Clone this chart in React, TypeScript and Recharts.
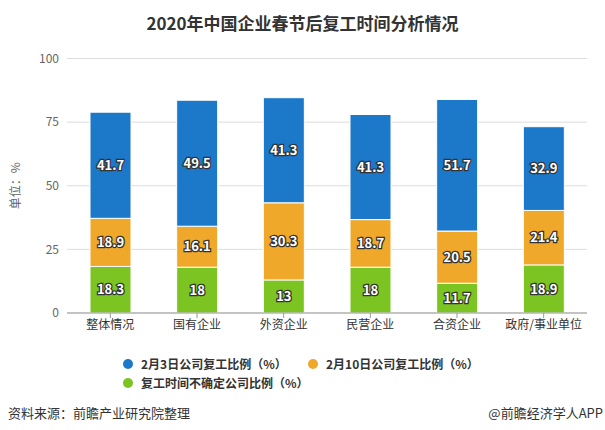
import { Bar, BarChart, CartesianGrid, LabelList, Legend, XAxis, YAxis } from "recharts";

const categories = ["整体情况", "国有企业", "外资企业", "民营企业", "合资企业", "政府/事业单位"];
const feb3 = [41.7, 49.5, 41.3, 41.3, 51.7, 32.9];
const feb10 = [18.9, 16.1, 30.3, 18.7, 20.5, 21.4];
const unsure = [18.3, 18, 13, 18, 11.7, 18.9];
const yTicks = [0, 25, 50, 75, 100];

const SERIES = [
  { key: "feb3", name: "2月3日公司复工比例（%）", color: "#1c78c8" },
  { key: "feb10", name: "2月10日公司复工比例（%）", color: "#efa82a" },
  { key: "unsure", name: "复工时间不确定公司比例（%）", color: "#7cc421" },
];

const data = categories.map((name, i) => ({
  name,
  feb3: feb3[i],
  feb10: feb10[i],
  unsure: unsure[i],
}));

const FONT = "'Microsoft YaHei', 'Noto Sans CJK SC', sans-serif";

const labelStyle = {
  fill: "#fff",
  stroke: "#333",
  strokeWidth: 2.5,
  paintOrder: "stroke",
  fontWeight: 700,
  fontSize: 13,
  fontFamily: FONT,
} as const;

const LegendContent = () => {
  const item = (s: (typeof SERIES)[number], left: number, top: number) => (
    <div
      key={s.key}
      style={{ position: "absolute", left, top, display: "flex", alignItems: "center", whiteSpace: "nowrap" }}
    >
      <span
        style={{
          width: 10,
          height: 10,
          borderRadius: 5,
          background: s.color,
          display: "inline-block",
          marginRight: 8,
        }}
      />
      <span style={{ fontSize: 12, fontWeight: 700, color: "#333", fontFamily: FONT }}>{s.name}</span>
    </div>
  );
  return (
    <div style={{ position: "relative", width: 605, height: 40 }}>
      {item(SERIES[0], 123, 0)}
      {item(SERIES[1], 308, 0)}
      {item(SERIES[2], 123, 19)}
    </div>
  );
};

const App = () => {
  return (
    <div style={{ position: "absolute", left: 0, top: 0, width: 605, height: 430, background: "#fff", fontFamily: FONT }}>
      <div
        style={{
          position: "absolute",
          top: 10,
          left: 0,
          width: 605,
          textAlign: "center",
          fontSize: 17,
          fontWeight: 700,
          color: "#333",
        }}
      >
        2020年中国企业春节后复工时间分析情况
      </div>
      <BarChart
        width={605}
        height={430}
        data={data}
        margin={{ top: 58.5, right: 18, left: 0, bottom: 87 }}
        barSize={41}
      >
        <CartesianGrid vertical={false} stroke="#ddd" />
        <XAxis
          dataKey="name"
          height={30}
          interval={0}
          tickLine={{ stroke: "#999" }}
          axisLine={{ stroke: "#999" }}
          tick={{ fill: "#333", fontSize: 12, fontFamily: FONT }}
          tickSize={5}
        />
        <YAxis
          width={67}
          domain={[0, 100]}
          ticks={yTicks}
          axisLine={false}
          tickLine={false}
          tick={{ fill: "#666", fontSize: 12, fontFamily: FONT }}
          label={{
            value: "单位：%",
            angle: -90,
            position: "insideLeft",
            offset: 16,
            style: { fill: "#666", fontSize: 12, fontFamily: FONT, textAnchor: "middle" },
          }}
        />
        <Legend
          layout="horizontal"
          verticalAlign="middle"
          align="center"
          content={<LegendContent />}
          wrapperStyle={{ position: "absolute", top: 355, left: 0, width: 605 }}
        />
        {[...SERIES].reverse().map((s) => (
          <Bar
            key={s.key}
            dataKey={s.key}
            name={s.name}
            stackId="a"
            fill={s.color}
            stroke="#fff"
            strokeWidth={1}
            isAnimationActive={false}
          >
            <LabelList dataKey={s.key} position="center" style={labelStyle} />
          </Bar>
        ))}
      </BarChart>
      <div style={{ position: "absolute", left: 8, top: 403, fontSize: 13, color: "#333" }}>资料来源：前瞻产业研究院整理</div>
      <div style={{ position: "absolute", right: 2, top: 403, fontSize: 13, color: "#333" }}>@前瞻经济学人APP</div>
    </div>
  );
};

export default App;
